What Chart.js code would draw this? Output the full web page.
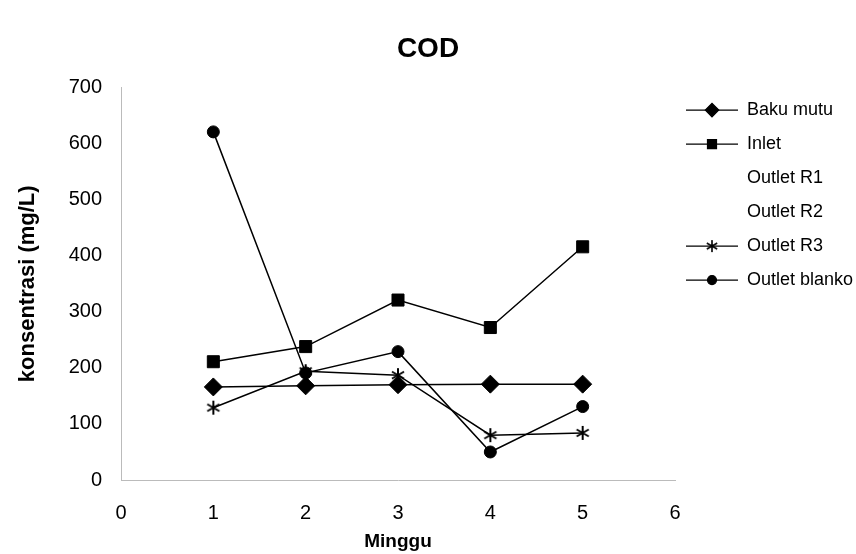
<!DOCTYPE html>
<html>
<head>
<meta charset="utf-8">
<script src="https://cdn.jsdelivr.net/npm/chart.js@4/dist/chart.umd.min.js"></script>
<style>
  html, body { margin: 0; padding: 0; background: #fff; }
  #wrap { width: 856px; height: 554px; }
</style>
</head>
<body>
<div id="wrap"><canvas id="cod"></canvas></div>
<script>
// data
const minggu = [1, 2, 3, 4, 5];
const bakuMutu = [166, 168, 170, 171, 171];
const inlet = [211, 238, 321, 272, 416];
const outletR1 = [];
const outletR2 = [];
const outletR3 = [129, 194, 187, 80, 84];
const outletBlanko = [621, 191, 229, 50, 131];
const yTicks = [0, 100, 200, 300, 400, 500, 600, 700];

const fontFam = '"Liberation Sans", Arial, sans-serif';

// asterisk marker: X with a vertical bar
function bintang(r, lw) {
    const c = document.createElement('canvas');
    const s = Math.ceil(r * 2 + lw * 2);
    c.width = s; c.height = s;
    const g = c.getContext('2d');
    const m = s / 2;
    g.strokeStyle = '#000';
    g.lineWidth = lw;
    g.beginPath();
    g.moveTo(m, m - r); g.lineTo(m, m + r);
    const dx = r * Math.cos(Math.PI / 6), dy = r * Math.sin(Math.PI / 6);
    g.moveTo(m - dx, m - dy); g.lineTo(m + dx, m + dy);
    g.moveTo(m - dx, m + dy); g.lineTo(m + dx, m - dy);
    g.stroke();
    return c;
}

function titik(arr) {
    return arr.map((v, i) => ({ x: minggu[i], y: v }));
}

function seri(label, arr, style, radius, warna) {
    return {
        label: label,
        data: titik(arr),
        borderColor: warna,
        backgroundColor: warna,
        pointBackgroundColor: warna,
        pointBorderColor: warna,
        borderWidth: 1.5,
        pointStyle: style,
        pointRadius: radius,
        pointBorderWidth: 1,
        tension: 0
    };
}

const bintangBesar = bintang(7, 2);
const bintangKecil = bintang(6, 1.6);

// draws the line + marker samples inside the legend boxes
const legendGaris = {
    id: 'legendGaris',
    afterDraw(chart) {
        const lg = chart.legend;
        const ctx = chart.ctx;
        const boxW = lg.options.labels.boxWidth;
        lg.legendItems.forEach((item, i) => {
            const box = lg.legendHitBoxes[i];
            const ds = chart.data.datasets[item.datasetIndex];
            if (!ds.pointStyle) return;
            const y = box.top + box.height / 2;
            ctx.save();
            ctx.strokeStyle = ds.borderColor;
            ctx.fillStyle = ds.borderColor;
            ctx.lineWidth = 1.2;
            ctx.beginPath();
            ctx.moveTo(box.left, y);
            ctx.lineTo(box.left + boxW, y);
            ctx.stroke();
            const gaya = ds.pointStyle === bintangBesar ? bintangKecil : ds.pointStyle;
            Chart.helpers.drawPoint(ctx, {
                pointStyle: gaya,
                radius: ds.pointRadius * 0.75,
                borderWidth: 1,
                rotation: 0
            }, box.left + boxW / 2, y);
            ctx.restore();
        });
    }
};

const config = {
    type: 'line',
    data: {
        datasets: [
            seri('Baku mutu', bakuMutu, 'rectRot', 9, '#000'),
            seri('Inlet', inlet, 'rect', 8.5, '#000'),
            seri('Outlet R1', outletR1, false, 0, 'rgba(255,255,255,0)'),
            seri('Outlet R2', outletR2, false, 0, 'rgba(255,255,255,0)'),
            seri('Outlet R3', outletR3, bintangBesar, 7, '#000'),
            seri('Outlet blanko', outletBlanko, 'circle', 6, '#000')
        ]
    },
    options: {
        responsive: true,
        maintainAspectRatio: false,
        animation: false,
        layout: { padding: { left: 0, right: 0, top: 0, bottom: 0 } },
        plugins: {
            title: {
                display: true,
                text: 'COD',
                color: '#000',
                font: { family: fontFam, size: 28, weight: 'bold' },
                padding: { top: 32, bottom: 22 }
            },
            legend: {
                position: 'right',
                align: 'start',
                fullSize: false,
                maxWidth: 181,
                labels: {
                    color: '#000',
                    font: { family: fontFam, size: 18 },
                    boxWidth: 52,
                    boxHeight: 23,
                    padding: 11,
                    generateLabels(chart) {
                        const items = Chart.defaults.plugins.legend.labels.generateLabels(chart);
                        return items.map(it => Object.assign(it, {
                            fillStyle: 'rgba(0,0,0,0)',
                            strokeStyle: 'rgba(0,0,0,0)',
                            lineWidth: 0
                        }));
                    }
                }
            },
            tooltip: { enabled: false }
        },
        scales: {
            x: {
                type: 'linear',
                min: 0,
                max: 6,
                afterFit(scale) { scale.height = 74; },
                grid: { display: false, drawTicks: false },
                border: { display: true, color: '#bbb', dash: [1, 3], width: 1 },
                ticks: {
                    stepSize: 1,
                    color: '#000',
                    padding: 21,
                    font: { family: fontFam, size: 20 }
                },
                title: {
                    display: true,
                    text: 'Minggu',
                    color: '#000',
                    font: { family: fontFam, size: 19, weight: 'bold' },
                    padding: { top: 0, bottom: 1 }
                }
            },
            y: {
                min: 0,
                max: 700,
                afterFit(scale) { scale.width = 121; },
                afterBuildTicks(scale) { scale.ticks = yTicks.map(v => ({ value: v })); },
                grid: { display: false, drawTicks: false },
                border: { display: true, color: '#bbb', dash: [1, 3], width: 1 },
                ticks: {
                    color: '#000',
                    padding: 19,
                    font: { family: fontFam, size: 20 }
                },
                title: {
                    display: true,
                    text: 'konsentrasi (mg/L)',
                    color: '#000',
                    font: { family: fontFam, size: 22, weight: 'bold' },
                    padding: { top: 15, bottom: 0 }
                }
            }
        }
    },
    plugins: [legendGaris]
};

new Chart(document.getElementById('cod'), config);
</script>
</body>
</html>
